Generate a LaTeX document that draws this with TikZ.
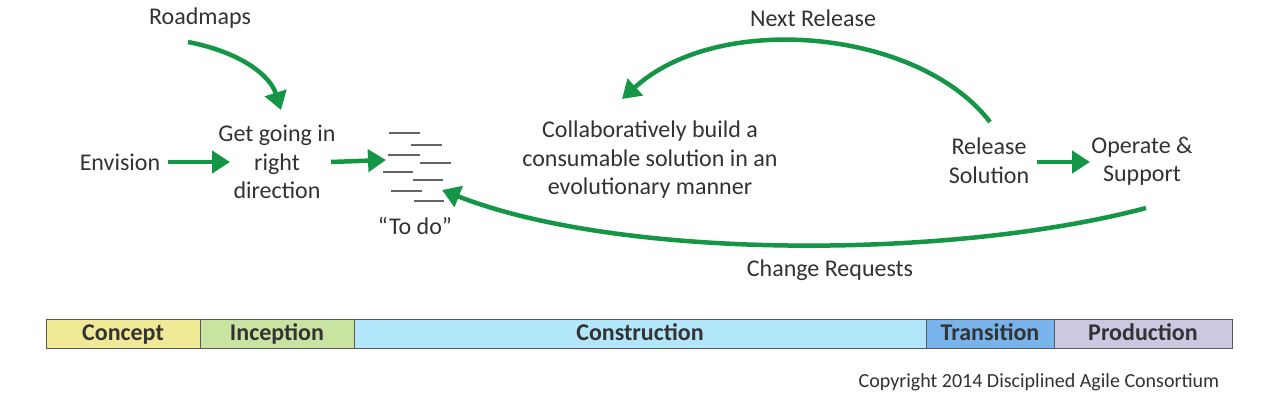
\documentclass[tikz,border=0pt]{standalone}
\usepackage{fontspec}
\setmainfont{Carlito}
\usetikzlibrary{arrows.meta}
\definecolor{gr}{RGB}{20,150,70}
\definecolor{tx}{RGB}{50,50,50}
\begin{document}
\begin{tikzpicture}[x=1pt,y=-1pt,
  lbl/.style={font=\fontsize{24}{28.5}\selectfont,text=tx,align=center,inner sep=0pt},
  arr/.style={draw=gr,line width=4.5pt,-{Triangle[length=18pt,width=22pt]}},
  dsh/.style={draw=tx!75,line width=2pt},
  ph/.style={draw=gray!70!black,line width=1pt,font=\fontsize{24}{26}\selectfont\bfseries,text=black!80,text height=18pt,text depth=4pt,inner ysep=3pt},
  cp/.style={font=\fontsize{20}{22}\selectfont,text=tx}]
\useasboundingbox (0,0) rectangle (1270,406);
\node[lbl] (road) at (200,18) {Roadmaps};
\node[lbl] (env) at (120,162) {Envision};
\node[lbl] (get) at (277,162) {Get going in\\right\\direction};
\node[lbl] (collab) at (650,160) {Collaboratively build a\\consumable solution in an\\evolutionary manner};
\node[lbl] (next) at (813,18) {Next Release};
\node[lbl] (rel) at (989,161) {Release\\Solution};
\node[lbl] (op) at (1142,161) {Operate \&\\Support};
\node[lbl] (todo) at (415,226) {“To do”};
\node[lbl] (chg) at (830,270) {Change Requests};
\foreach \xa/\xb/\y in {389/420/133,411/442/145,388/420/155,420/451/163,383/413/172,413/443/180,391/422/191,414/444/201}
  \draw[dsh] (\xa,\y) -- (\xb,\y);
\coordinate (a1) at (188,42); \coordinate (a2) at (281,110);
\draw[arr] (a1) .. controls (240,52) and (270,75) .. (a2);
\draw[arr] (168,162) -- (230,162);
\draw[arr] (331,162) -- (386,160);
\coordinate (n1) at (990,122); \coordinate (n2) at (622,99);
\draw[arr] (n1) .. controls (920,30) and (720,10) .. (n2);
\coordinate (c1) at (1146,208); \coordinate (c2) at (442,190);
\draw[arr] (c1) .. controls (950,260) and (620,260) .. (c2);
\draw[arr] (1037,162) -- (1090,162);
\node[ph,fill={rgb,255:red,240;green,234;blue,150},minimum width=154pt,minimum height=28pt] (p1) at (123,334) {Concept};
\node[ph,fill={rgb,255:red,200;green,228;blue,160},minimum width=154pt,minimum height=28pt] (p2) at (277,334) {Inception};
\node[ph,fill={rgb,255:red,178;green,230;blue,250},minimum width=572pt,minimum height=28pt] (p3) at (640,334) {Construction};
\node[ph,fill={rgb,255:red,120;green,180;blue,235},minimum width=128pt,minimum height=28pt] (p4) at (990,334) {Transition};
\node[ph,fill={rgb,255:red,205;green,200;blue,225},minimum width=178pt,minimum height=28pt] (p5) at (1143,334) {Production};
\node[cp] (copy) at (1039,382) {Copyright 2014 Disciplined Agile Consortium};
\end{tikzpicture}
\end{document}
